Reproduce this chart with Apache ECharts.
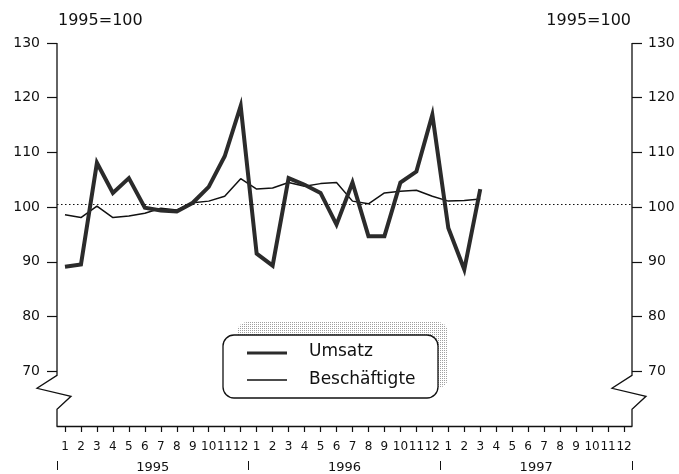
<!DOCTYPE html>
<html>
<head>
<meta charset="utf-8">
<script src="https://cdn.jsdelivr.net/npm/echarts@6/dist/echarts.min.js"></script>
<style>
html,body{margin:0;padding:0;background:#fff;}
#c{width:679px;height:474px;}
</style>
</head>
<body>
<div id="c"></div>
<script>
// ---- data ----
const monthLabels = ['1','2','3','4','5','6','7','8','9','10','11','12'];
const years = ['1995','1996','1997'];
const umsatz = [89.1, 89.5, 108.1, 102.6, 105.3, 99.9, 99.4, 99.2, 100.8, 103.7, 109.3, 118.5,
                91.5, 89.3, 105.3, 104.1, 102.6, 96.8, 104.5, 94.7, 94.7, 104.5, 106.5, 116.9,
                96.2, 88.6, 103.3];
const beschaeftigte = [98.6, 98.1, 100.2, 98.1, 98.4, 98.9, 99.8, 99.5, 100.8, 101.1, 102.0, 105.2,
                       103.3, 103.5, 104.5, 103.8, 104.3, 104.5, 101.1, 100.6, 102.6, 102.9, 103.1, 102.0,
                       101.1, 101.2, 101.5];
const yTicks = [70, 80, 90, 100, 110, 120, 130];
const baseLine = 100.5;
const unitLabel = '1995=100';
const seriesNames = ['Umsatz', 'Beschäftigte'];

// ---- build ----
const categories = [];
years.forEach(() => monthLabels.forEach(m => categories.push(m)));

const FONT = 'DejaVu Sans';
const INK = '#111';
const L = 57, R = 632, T = 43, B = 427;

// stipple pattern for the legend shadow
const pat = document.createElement('canvas');
pat.width = 2; pat.height = 2;
const pctx = pat.getContext('2d');
pctx.fillStyle = '#fff'; pctx.fillRect(0, 0, 2, 2);
pctx.fillStyle = '#a0a0a0'; pctx.fillRect(0, 0, 1, 1);

const chart = echarts.init(document.getElementById('c'));

const option = {
  animation: false,
  backgroundColor: '#fff',
  grid: { left: L, right: 679 - R, top: T, bottom: 474 - B },
  xAxis: [
    {
      type: 'category', data: categories, boundaryGap: true, position: 'bottom',
      axisLine: { show: true, lineStyle: { color: INK, width: 1.3 } },
      axisTick: { show: true, alignWithLabel: true, interval: 0, length: 6, lineStyle: { color: INK, width: 1.2 } },
      axisLabel: { interval: 0, margin: 15, color: INK, fontFamily: FONT, fontSize: 12 },
      splitLine: { show: false }
    },
    {
      type: 'category', data: years, boundaryGap: true, position: 'bottom', offset: 35,
      axisLine: { show: false },
      axisTick: { show: true, length: 9, lineStyle: { color: INK, width: 1 } },
      axisLabel: { margin: 0, color: INK, fontFamily: FONT, fontSize: 13 },
      splitLine: { show: false }
    }
  ],
  yAxis: [
    {
      type: 'value', min: 60, max: 130, interval: 10, position: 'left',
      axisLine: { show: false },
      axisTick: { show: true, length: 10, customValues: yTicks, lineStyle: { color: INK, width: 1.2 } },
      axisLabel: { margin: 17, customValues: yTicks, color: INK, fontFamily: FONT, fontSize: 14 },
      splitLine: { show: false }
    },
    {
      type: 'value', min: 60, max: 130, interval: 10, position: 'right',
      axisLine: { show: false },
      axisTick: { show: true, length: 10, customValues: yTicks, lineStyle: { color: INK, width: 1.2 } },
      axisLabel: { margin: 16, customValues: yTicks, color: INK, fontFamily: FONT, fontSize: 14 },
      splitLine: { show: false }
    }
  ],
  series: [
    {
      name: seriesNames[1], type: 'line', data: beschaeftigte, symbol: 'none',
      lineStyle: { color: '#111', width: 1.5 },
      markLine: {
        silent: true, symbol: 'none', label: { show: false },
        lineStyle: { color: '#111', width: 1.2, type: [1.5, 2.5] },
        data: [{ yAxis: baseLine }]
      },
      z: 3
    },
    {
      name: seriesNames[0], type: 'line', data: umsatz, symbol: 'none',
      lineStyle: { color: '#2b2b2b', width: 4, join: 'miter' },
      z: 4
    }
  ]
};
chart.setOption(option);

// axis lines with break marks, computed from the axis scale
const y70 = chart.convertToPixel({ yAxisIndex: 0 }, 70);
const y60 = chart.convertToPixel({ yAxisIndex: 0 }, 60);
const y130 = chart.convertToPixel({ yAxisIndex: 0 }, 130);
function breakAxis(x) {
  return [[x, y130], [x, y70 + 4], [x - 20, y70 + 17], [x + 14, y70 + 25], [x, y70 + 38], [x, y60]];
}
const lineStyleAxis = { stroke: INK, lineWidth: 1.3, fill: null };

chart.setOption({
  graphic: [
    { type: 'polyline', shape: { points: breakAxis(L) }, style: lineStyleAxis, z: 10 },
    { type: 'polyline', shape: { points: breakAxis(R) }, style: lineStyleAxis, z: 10 },
    { type: 'text', left: 58, top: 13, style: { text: unitLabel, fill: INK, font: '16px "DejaVu Sans"' } },
    { type: 'text', right: 679 - 631, top: 13, style: { text: unitLabel, fill: INK, font: '16px "DejaVu Sans"' } },
    // legend box with stippled shadow
    { type: 'rect', shape: { x: 237, y: 322, width: 211, height: 66, r: 10 }, style: { fill: { image: pat, repeat: 'repeat' } }, z: 20 },
    { type: 'rect', shape: { x: 223, y: 335, width: 215, height: 63, r: 11 }, style: { fill: '#fff', stroke: INK, lineWidth: 1.3 }, z: 21 },
    { type: 'line', shape: { x1: 247, y1: 353, x2: 287, y2: 353 }, style: { stroke: '#2b2b2b', lineWidth: 3 }, z: 22 },
    { type: 'line', shape: { x1: 247, y1: 380, x2: 287, y2: 380 }, style: { stroke: '#111', lineWidth: 1.3 }, z: 22 },
    { type: 'text', x: 309, y: 352, style: { text: seriesNames[0], fill: INK, font: '17px "DejaVu Sans"', verticalAlign: 'middle' }, z: 22 },
    { type: 'text', x: 309, y: 380, style: { text: seriesNames[1], fill: INK, font: '17px "DejaVu Sans"', verticalAlign: 'middle' }, z: 22 }
  ]
});
</script>
</body>
</html>
